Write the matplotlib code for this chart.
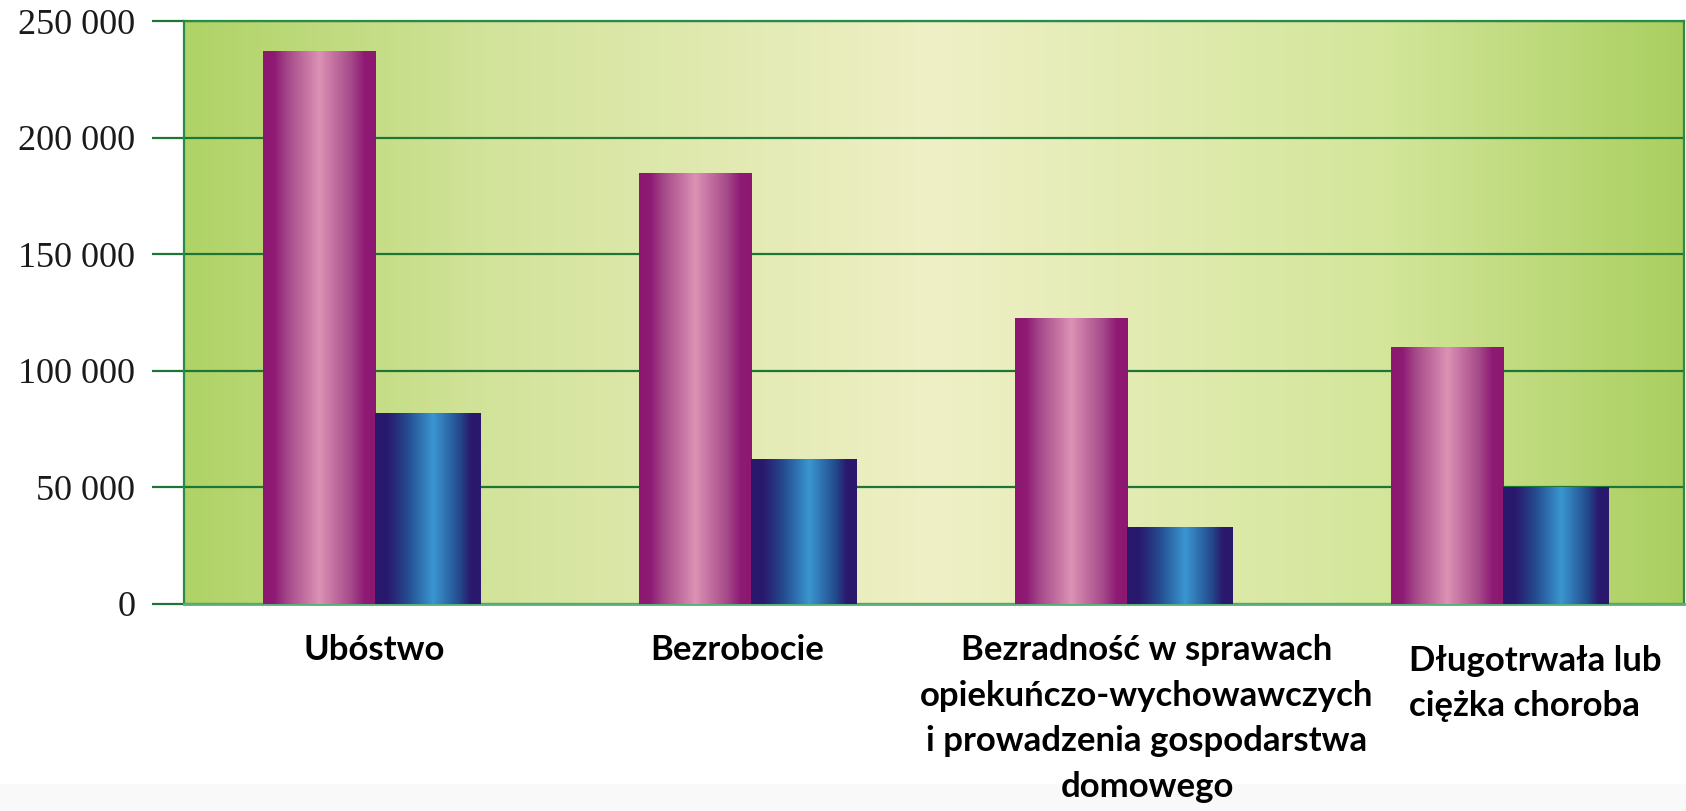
import numpy as np
import matplotlib
matplotlib.use("Agg")
import matplotlib.pyplot as plt
from matplotlib.colors import LinearSegmentedColormap
from matplotlib.ticker import FuncFormatter

categories = ["Ubóstwo", "Bezrobocie",
              "Bezradność w sprawach\nopiekuńczo-wychowawczych\ni prowadzenia gospodarstwa\ndomowego",
              "Długotrwała lub\nciężka choroba"]
series_pink = [237000, 185000, 122500, 110000]
series_blue = [82000, 62000, 33000, 50000]
yticks = [0, 50000, 100000, 150000, 200000, 250000]

pink_cmap = LinearSegmentedColormap.from_list(
    "pink", [(0, "#8c1872"), (0.1, "#8e1a74"), (0.22, "#a64a8a"), (0.5, "#dc92b4"),
             (0.78, "#a64a8a"), (0.9, "#8e1a74"), (1, "#8c1872")])
blue_cmap = LinearSegmentedColormap.from_list(
    "blue", [(0, "#29186c"), (0.12, "#2a1a6e"), (0.3, "#244a8e"), (0.55, "#3a96d0"),
             (0.8, "#244a8e"), (0.9, "#2a1a6e"), (1, "#29186c")])
bg_cmap = LinearSegmentedColormap.from_list(
    "bg", [(0, "#afd366"), (0.2, "#d2e39a"), (0.5, "#eff0c6"), (0.8, "#d3e69a"), (1, "#aacf60")])

fig = plt.figure(figsize=(16.86, 8.11), dpi=100)
# faint grey strip at the very bottom
fig.patches.append(plt.Rectangle((0, 0), 1, 0.033, transform=fig.transFigure,
                                 color="#f9f9f9", zorder=-5))
ax = fig.add_axes([0.1091, 0.2553, 0.8897, 0.7188])

x = np.arange(len(categories))
wp, wb = 0.298, 0.281

# background gradient
grad = np.linspace(0, 1, 512).reshape(1, -1)
ax.imshow(grad, cmap=bg_cmap, aspect="auto", extent=[0, 1, 0, 1],
          transform=ax.transAxes, zorder=0)

ax.set_yticks(yticks)
ax.grid(axis="y", color="#1d7536", linewidth=1.6, zorder=1)
ax.set_axisbelow(True)

bars_p = ax.bar(x - wp / 2, series_pink, wp, color="none", zorder=3)
bars_b = ax.bar(x + wb / 2, series_blue, wb, color="none", zorder=3)

g = np.linspace(0, 1, 256).reshape(1, -1)
for bars, cmap in ((bars_p, pink_cmap), (bars_b, blue_cmap)):
    for p in bars:
        x0, y0 = p.get_x(), p.get_y()
        im = ax.imshow(g, cmap=cmap, aspect="auto",
                       extent=[x0, x0 + p.get_width(), y0, y0 + p.get_height()], zorder=3)
        im.set_clip_path(p)
ax.set_xlim(-0.507, 3.482)
ax.set_ylim(0, 250000)

ax.yaxis.set_major_formatter(FuncFormatter(lambda v, _: f"{int(v):,}".replace(",", " ")))
ax.tick_params(axis="y", length=23, width=1.6, color="#1d7536", pad=12,
               labelsize=26)
for lbl in ax.get_yticklabels():
    lbl.set_fontfamily("Liberation Serif")
    lbl.set_color("#1a1a1a")
ax.set_xticks([])

for s in ("left", "top", "right"):
    ax.spines[s].set_color("#2a8a4a")
    ax.spines[s].set_linewidth(1.6)
ax.spines["bottom"].set_color("#5aae78")
ax.spines["bottom"].set_linewidth(2)

label_x = [0, 0.964, 2.054, 2.75]
label_y = [-0.052, -0.052, -0.052, -0.07]
label_ha = ["center", "center", "center", "left"]
label_ma = ["center", "center", "center", "left"]
trans = ax.get_xaxis_transform()
for lx, ly, lab, ha, ma in zip(label_x, label_y, categories, label_ha, label_ma):
    ax.text(lx, ly, lab, transform=trans, ha=ha, va="top", multialignment=ma,
            fontsize=25, fontweight="bold", family="Lato", linespacing=1.52,
            color="#000000")

fig.savefig("out.png", dpi=100)
